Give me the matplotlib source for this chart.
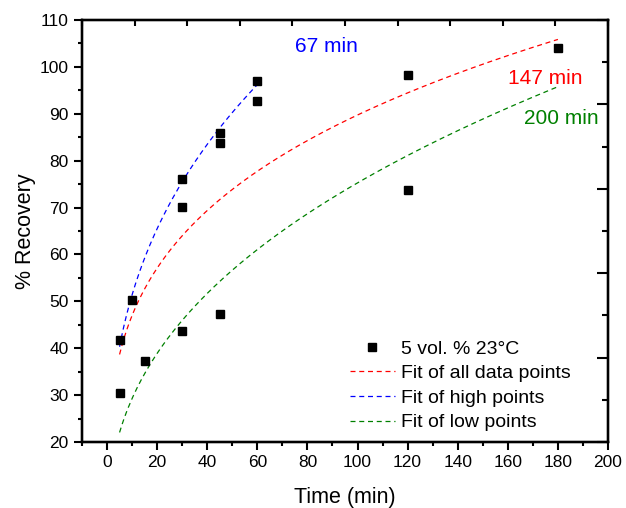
import numpy as np
import matplotlib
matplotlib.use("Agg")
import matplotlib.pyplot as plt
from matplotlib.ticker import MultipleLocator

plt.rcParams['font.family'] = ['Liberation Sans', 'DejaVu Sans']

# measured data
time_min = [5, 5, 10, 15, 30, 30, 30, 45, 45, 45, 60, 60, 120, 120, 180]
recovery = [41.7, 30.4, 50.2, 37.2, 76.0, 70.1, 43.6, 86.0, 83.8, 47.3, 97.0, 92.7, 98.3, 73.7, 104.0]

# power-law fits y = 100*(t/T)^b, T = time to 100 % recovery
fit_names = ["Fit of all data points", "Fit of high points", "Fit of low points"]
fit_T = [147, 67, 200]
fit_b = [0.281, 0.35, 0.41]
fit_tmax = [180, 60, 180]
fit_colors = ["#ff0000", "#0000ff", "#008000"]
fit_labels = ["147 min", "67 min", "200 min"]

W, H = 626, 508
fig = plt.figure(figsize=(W/100, H/100), dpi=100)
ax = fig.add_axes([82/W, 1-442/H, (608-82)/W, (442-20)/H])

ax.plot(time_min, recovery, 's', color='black', markersize=6, label="5 vol. % 23°C", zorder=3)
for name, T, b, tmax, c in zip(fit_names, fit_T, fit_b, fit_tmax, fit_colors):
    t = np.linspace(5, tmax, 200)
    ax.plot(t, 100*(t/T)**b, color=c, lw=0.9, linestyle=(0, (4, 3)), label=name)

ax.set_xlim(-10, 200)
ax.set_ylim(20, 110)
ax.xaxis.set_major_locator(MultipleLocator(20))
ax.xaxis.set_minor_locator(MultipleLocator(10))
ax.yaxis.set_major_locator(MultipleLocator(10))
ax.yaxis.set_minor_locator(MultipleLocator(5))
ax.tick_params(which='major', direction='out', length=6, width=1.5, labelsize=12.5)
ax.tick_params(which='minor', direction='out', length=3, width=1.5)
for s in ax.spines.values():
    s.set_linewidth(1.6)

ax.set_xlabel("Time (min)", fontsize=15.5, labelpad=12)
ax.set_ylabel("% Recovery", fontsize=15.5, labelpad=3)

# mirrored top/right axes (Origin style)
axt = ax.twiny()
axt.set_xlim(0, 10)
axt.xaxis.set_major_locator(MultipleLocator(1))
axt.tick_params(axis='x', direction='in', length=4, width=1.5, labeltop=False)
axr = ax.twinx()
axr.set_ylim(0, 10)
axr.yaxis.set_major_locator(MultipleLocator(2))
axr.yaxis.set_minor_locator(MultipleLocator(1))
axr.tick_params(axis='y', which='major', direction='in', length=8, width=1.5, labelright=False)
axr.tick_params(axis='y', which='minor', direction='in', length=4, width=1.5)
for a in (axt, axr):
    for s in a.spines.values():
        s.set_linewidth(1.6)

fig.text(326/W, 1-46/H, fit_labels[1], color=fit_colors[1], fontsize=15, ha='center', va='center')
fig.text(545/W, 1-79/H, fit_labels[0], color=fit_colors[0], fontsize=15, ha='center', va='center')
fig.text(561/W, 1-118/H, fit_labels[2], color=fit_colors[2], fontsize=15, ha='center', va='center')

leg = ax.legend(loc='upper left', bbox_to_anchor=(350/W, 1-340/H), bbox_transform=fig.transFigure,
                frameon=False, fontsize=14, handlelength=2.3, handletextpad=0.3,
                labelspacing=0.36, borderpad=0, borderaxespad=0)

fig.savefig("out.png", dpi=100)
